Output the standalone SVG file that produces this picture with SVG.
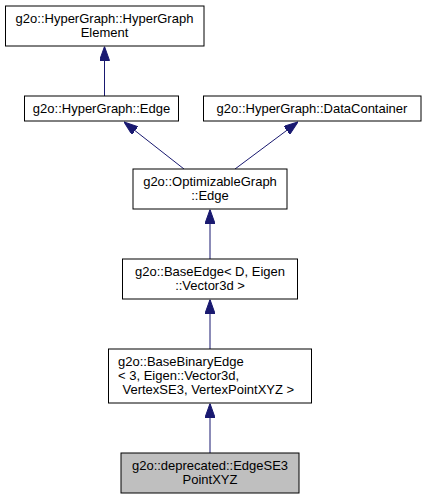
<svg xmlns="http://www.w3.org/2000/svg" width="427" height="499" viewBox="0 0 427 499">
<defs>
<style>
.box{fill:#ffffff;stroke:#000000;stroke-width:1}
.cur{fill:#bfbfbf;stroke:#000000;stroke-width:1}
text{font-family:"Liberation Sans",Arial,sans-serif;font-size:13px;fill:#000000}
.c{text-anchor:middle}
.e{fill:none;stroke:#191970;stroke-width:1}
</style>
<marker id="ahb" viewBox="0 0 14 10" refX="14" refY="5" markerWidth="14" markerHeight="10" markerUnits="userSpaceOnUse" orient="auto">
<path d="M0,0 L14,5 L0,10 Z" fill="#191970" stroke="#191970"/>
</marker>
</defs>
<rect width="427" height="499" fill="#ffffff"/>
<g id="connectors">
<line class="e" x1="104.5" y1="96" x2="104.5" y2="46.5" marker-end="url(#ahb)"/>
<line class="e" x1="184" y1="169" x2="124" y2="122" marker-end="url(#ahb)"/>
<line class="e" x1="235" y1="169" x2="298" y2="122" marker-end="url(#ahb)"/>
<line class="e" x1="210" y1="259" x2="210" y2="209.5" marker-end="url(#ahb)"/>
<line class="e" x1="210" y1="349" x2="210" y2="299.5" marker-end="url(#ahb)"/>
<line class="e" x1="210" y1="453" x2="210" y2="403.5" marker-end="url(#ahb)"/>
</g>
<g id="node_element">
<rect class="box" x="5.5" y="6" width="198.5" height="40"/>
<text class="c" x="104.5" y="23">g2o::HyperGraph::HyperGraph</text>
<text class="c" x="104.5" y="36.5">Element</text>
</g>
<g id="node_edge">
<rect class="box" x="24.5" y="96" width="154" height="25"/>
<text class="c" x="101.5" y="113">g2o::HyperGraph::Edge</text>
</g>
<g id="node_datacontainer">
<rect class="box" x="203.5" y="96" width="217.5" height="25"/>
<text class="c" x="312" y="113">g2o::HyperGraph::DataContainer</text>
</g>
<g id="node_optedge">
<rect class="box" x="133" y="169" width="154" height="40"/>
<text class="c" x="210" y="186">g2o::OptimizableGraph</text>
<text class="c" x="210" y="199.5">::Edge</text>
</g>
<g id="node_baseedge">
<rect class="box" x="122.5" y="259" width="175" height="40"/>
<text class="c" x="210" y="276">g2o::BaseEdge&lt; D, Eigen</text>
<text class="c" x="210" y="289.5">::Vector3d &gt;</text>
</g>
<g id="node_basebinaryedge">
<rect class="box" x="108.5" y="349" width="203" height="54"/>
<text x="118" y="366">g2o::BaseBinaryEdge</text>
<text x="118" y="380">&lt; 3, Eigen::Vector3d,</text>
<text x="122.5" y="393.5">VertexSE3, VertexPointXYZ &gt;</text>
</g>
<g id="node_edgese3">
<rect class="cur" x="121" y="453" width="178" height="40"/>
<text class="c" x="210" y="470">g2o::deprecated::EdgeSE3</text>
<text class="c" x="210" y="483.5">PointXYZ</text>
</g>
</svg>
